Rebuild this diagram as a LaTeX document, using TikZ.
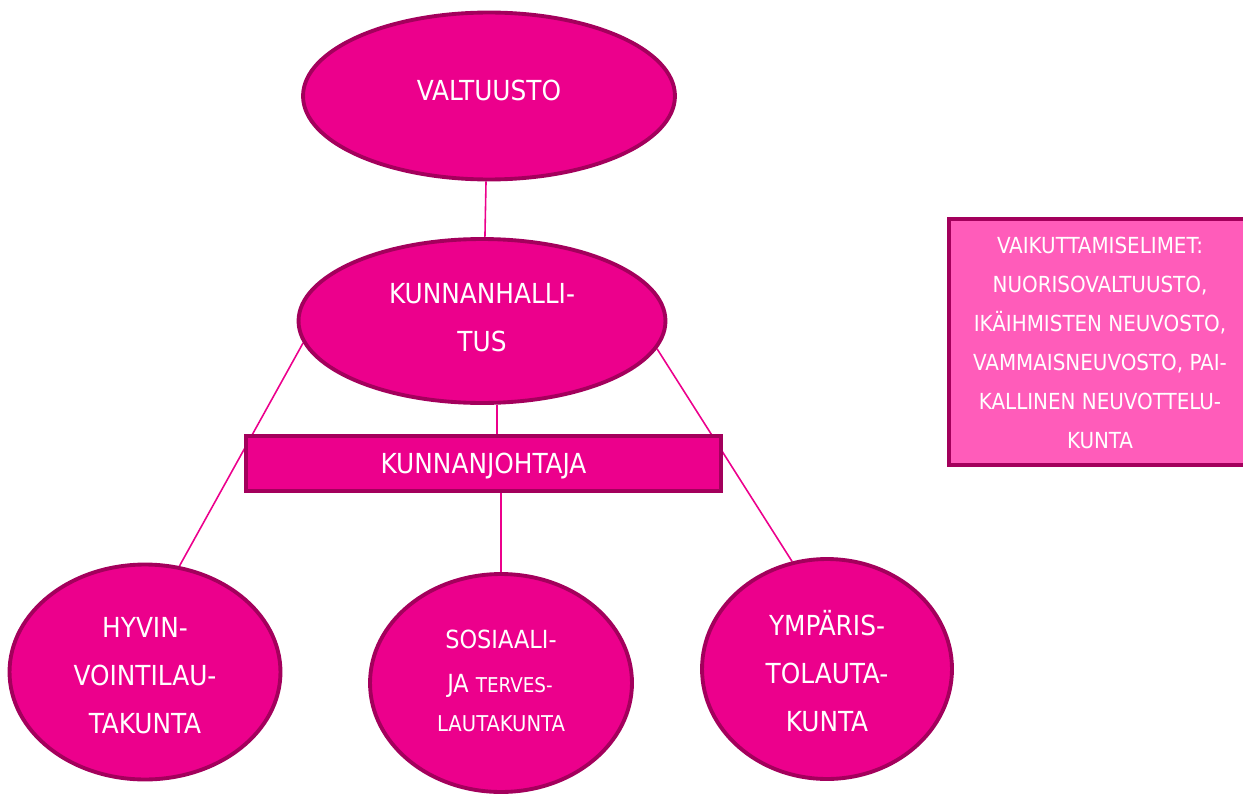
\documentclass[tikz,border=0pt]{standalone}
\usepackage{fontspec}
\setmainfont{DejaVu Sans Condensed}
\usetikzlibrary{shapes.geometric}
\definecolor{mag}{HTML}{EC008C}
\definecolor{magdark}{HTML}{A3005C}
\definecolor{maglight}{HTML}{FF5CBA}
\pgfdeclarelayer{bg}
\pgfsetlayers{bg,main}
\begin{document}
\begin{tikzpicture}[x=0.02cm,y=-0.02cm,
  org/.style={ellipse, draw=magdark, fill=mag, line width=2.2pt, inner sep=0pt},
  box/.style={rectangle, draw=magdark, fill=mag, line width=2.2pt, inner sep=0pt},
  txt/.style={text=white, inner sep=0pt, align=center, font=\fontsize{15.7}{27.3}\selectfont},
  conn/.style={draw=mag, line width=0.9pt}]
\useasboundingbox (0,0) rectangle (1243,794);

% ellipses
\node[org, minimum width=7.44cm, minimum height=3.34cm] (valt) at (489,96) {};
\node[txt] (valtt) at (489,90) {VALTUUSTO};

\node[org, minimum width=7.34cm, minimum height=3.28cm] (kh) at (482,321) {};
\node[txt] (kht) at (482,318) {KUNNANHALLI-\\TUS};

\node[box, minimum width=9.5cm, minimum height=1.1cm] (kj) at (483.5,463.5) {};
\node[txt] (kjt) at (483.5,466) {KUNNANJOHTAJA};

\node[org, minimum width=5.42cm, minimum height=4.3cm] (hyv) at (145,672) {};
\node[txt] (hyvt) at (145,676) {HYVIN-\\VOINTILAU-\\TAKUNTA};

\node[org, minimum width=5.24cm, minimum height=4.36cm] (sos) at (501,683) {};
\node[txt, font=\fontsize{14.2}{16}\selectfont] (sos1) at (501,639) {SOSIAALI-};
\node[txt, font=\fontsize{14.2}{16}\selectfont] (sos2) at (500,686) {JA {\fontsize{11.6}{12}\selectfont TERVES-}};
\node[txt, font=\fontsize{12.4}{15}\selectfont] (sos3) at (501,724) {LAUTAKUNTA};

\node[org, minimum width=5.0cm, minimum height=4.4cm] (ymp) at (827,669) {};
\node[txt] (ympt) at (827,671) {YMPÄRIS-\\TOLAUTA-\\KUNTA};

% right box
\node[rectangle, draw=magdark, fill=maglight, line width=2.2pt, inner sep=0pt,
      minimum width=6.04cm, minimum height=4.92cm] (vai) at (1100,342) {};
\node[txt, font=\fontsize{12.6}{22.2}\selectfont] (vait) at (1100,342.5)
  {VAIKUTTAMISELIMET:\\NUORISOVALTUUSTO,\\IKÄIHMISTEN NEUVOSTO,\\VAMMAISNEUVOSTO, PAI-\\KALLINEN NEUVOTTELU-\\KUNTA};

% connectors
\begin{pgfonlayer}{bg}
\draw[conn] (valt.-92) -- (kh.88);
\draw[conn] (kh.187) -- (hyv.72);
\draw[conn] (kh.-9.5) -- (ymp.108);
\draw[conn] (kh.-80) -- (kh.-80 |- kj.north);
\draw[conn] (kj.south -| sos.north) -- (sos.north);
\end{pgfonlayer}
\end{tikzpicture}
\end{document}
